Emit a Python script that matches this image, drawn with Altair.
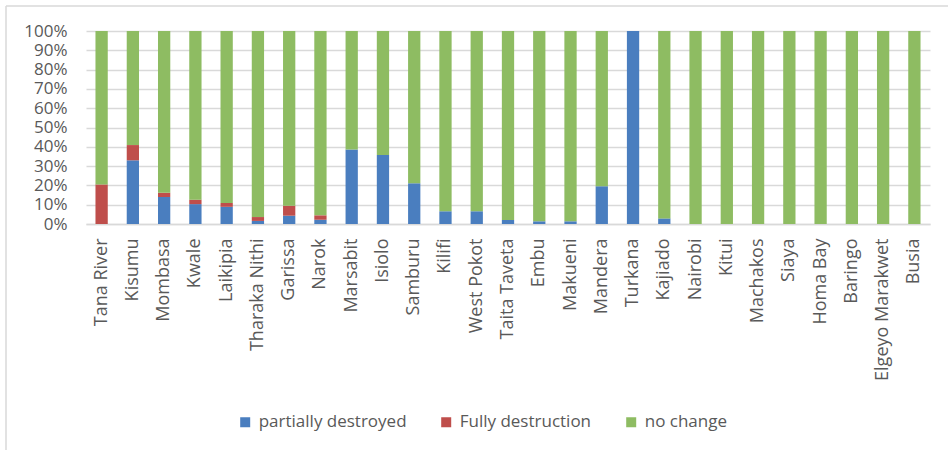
import altair as alt
import pandas as pd

# County names in display order
counties = [
    "Tana River", "Kisumu", "Mombasa", "Kwale", "Laikipia", "Tharaka Nithi",
    "Garissa", "Narok", "Marsabit", "Isiolo", "Samburu", "Kilifi",
    "West Pokot", "Taita Taveta", "Embu", "Makueni", "Mandera", "Turkana",
    "Kajiado", "Nairobi", "Kitui", "Machakos", "Siaya", "Homa Bay",
    "Baringo", "Elgeyo Marakwet", "Busia",
]

# Share of facilities (%) per status
partially_destroyed = [
    0, 33.0, 14.0, 10.3, 8.9, 1.6, 4.3, 2.2, 38.6, 35.7, 21.1, 6.6,
    6.6, 2.1, 1.4, 1.4, 19.6, 100, 2.9, 0, 0, 0, 0, 0, 0, 0, 0,
]
fully_destruction = [
    20.5, 7.9, 2.2, 2.3, 2.0, 2.0, 5.2, 2.3, 0, 0, 0, 0,
    0, 0, 0, 0, 0, 0, 0, 0, 0, 0, 0, 0, 0, 0, 0,
]

series = ["partially destroyed", "Fully destruction", "no change"]
colors = ["#4A7EBF", "#BF4E4B", "#8EBC62"]

rows = []
for i, c in enumerate(counties):
    p = partially_destroyed[i]
    f = fully_destruction[i]
    n = round(100 - p - f, 2)
    for k, (s, v) in enumerate(zip(series, [p, f, n])):
        rows.append({"county": c, "status": s, "share": v / 100.0, "order": k})
df = pd.DataFrame(rows)

FONT = "Open Sans"
TXT = "#595959"
GRID = "#D9D9D9"

bars = alt.Chart(df).mark_bar().encode(
    x=alt.X(
        "county:N",
        sort=counties,
        title=None,
        scale=alt.Scale(paddingInner=0.607, paddingOuter=0.303),
        axis=alt.Axis(
            labelAngle=-90,
            labelFontSize=18,
            labelFont=FONT,
            labelColor=TXT,
            labelPadding=14,
            ticks=False,
            tickSize=0,
            domainColor=GRID,
            domainWidth=1.5,
            grid=False,
        ),
    ),
    y=alt.Y(
        "share:Q",
        stack="zero",
        title=None,
        scale=alt.Scale(domain=[0, 1], nice=False),
        axis=alt.Axis(
            format=".0%",
            values=[i / 10 for i in range(11)],
            labelFontSize=17,
            labelFont=FONT,
            labelColor=TXT,
            labelPadding=19,
            ticks=False,
            tickSize=0,
            domain=False,
            gridColor=GRID,
            gridWidth=1.5,
        ),
    ),
    color=alt.Color(
        "status:N",
        scale=alt.Scale(domain=series, range=colors),
        legend=alt.Legend(
            title=None,
            orient="none",
            direction="horizontal",
            legendX=150.7,
            legendY=382.5,
            symbolType="square",
            symbolSize=100,
            symbolStrokeWidth=0,
            labelFontSize=17,
            labelFont=FONT,
            labelColor=TXT,
            labelOffset=5,
            columnPadding=31,
            padding=0,
        ),
    ),
    order=alt.Order("order:Q"),
)

# Thin frame along the top and left edges of the chart
frame_data = pd.DataFrame({"a": [0]})
left_edge = alt.Chart(frame_data).mark_rule(color=GRID, strokeWidth=1.5).encode(
    x=alt.value(-80), y=alt.value(-25), y2=alt.value(419)
)
top_edge = alt.Chart(frame_data).mark_rule(color=GRID, strokeWidth=1.5).encode(
    x=alt.value(-80), x2=alt.value(862), y=alt.value(-25)
)

chart = (
    alt.layer(bars, left_edge, top_edge)
    .properties(
        width=844,
        height=193,
        autosize=alt.AutoSizeParams(type="none"),
        padding={"left": 86, "top": 31, "right": 18, "bottom": 226},
        background="white",
    )
    .configure_view(stroke=None)
)

chart.save("out.html", embed_options={"renderer": "svg", "actions": False})
